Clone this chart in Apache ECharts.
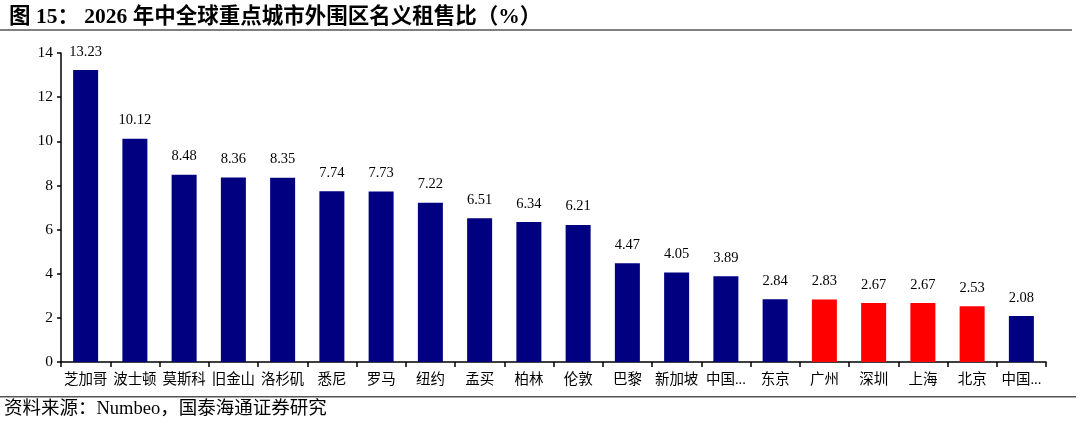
<!DOCTYPE html>
<html>
<head>
<meta charset="utf-8">
<script src="https://cdn.jsdelivr.net/npm/echarts@6/dist/echarts.min.js"></script>
<style>
  html, body { margin: 0; padding: 0; background: #fff; }
  #chart { width: 1080px; height: 424px; }
</style>
</head>
<body>
<div id="chart"></div>
<script>
// ─── Data ──────────────────────────────────────────
const cities = ['芝加哥', '波士顿', '莫斯科', '旧金山', '洛杉矶', '悉尼', '罗马', '纽约', '孟买', '柏林',
  '伦敦', '巴黎', '新加坡', '中国...', '东京', '广州', '深圳', '上海', '北京', '中国...'];
const ratios = [13.23, 10.12, 8.48, 8.36, 8.35, 7.74, 7.73, 7.22, 6.51, 6.34,
  6.21, 4.47, 4.05, 3.89, 2.84, 2.83, 2.67, 2.67, 2.53, 2.08];
const highlighted = ['广州', '深圳', '上海', '北京'];
const yTicks = [0, 2, 4, 6, 8, 10, 12, 14];

const serif = '"Liberation Serif", "Times New Roman", "Noto Sans CJK SC", serif';
const NAVY = '#000080';
const RED = '#ff0000';

const chart = echarts.init(document.getElementById('chart'), null, { renderer: 'canvas' });

const barData = ratios.map((v, i) => ({
  value: v,
  itemStyle: { color: highlighted.includes(cities[i]) ? RED : NAVY }
}));

chart.setOption({
  animation: false,
  backgroundColor: '#fff',
  title: {
    text: '图 15： 2026 年中全球重点城市外围区名义租售比（%）',
    left: 4,
    top: 2,
    textStyle: { fontFamily: serif, fontSize: 21.5, fontWeight: 'bold', color: '#000' }
  },
  graphic: [
    { type: 'rect', shape: { x: 0, y: 29, width: 1072, height: 2 }, style: { fill: '#808080' } },
    { type: 'rect', shape: { x: 0, y: 396, width: 1076, height: 1.5 }, style: { fill: '#555' } },
    {
      type: 'text', left: 4, top: 400,
      style: { text: '资料来源：Numbeo，国泰海通证券研究', font: '18.5px ' + serif, fill: '#000' }
    }
  ],
  grid: { left: 61, right: 34, top: 53, bottom: 62 },
  xAxis: {
    type: 'category',
    data: cities,
    axisLine: { lineStyle: { color: '#000', width: 1.5 } },
    axisTick: { show: true, alignWithLabel: false, length: 5, lineStyle: { color: '#000', width: 1.5 } },
    axisLabel: { color: '#000', fontFamily: serif, fontSize: 14.5, margin: 11, interval: 0 }
  },
  yAxis: {
    type: 'value',
    min: yTicks[0],
    max: yTicks[yTicks.length - 1],
    interval: 2,
    axisLine: { show: true, lineStyle: { color: '#000', width: 1.5 } },
    axisTick: { show: true, length: 4, lineStyle: { color: '#000', width: 1.5 } },
    splitLine: { show: false },
    axisLabel: { color: '#000', fontFamily: serif, fontSize: 15.5, margin: 8 }
  },
  series: [{
    type: 'bar',
    data: barData,
    barWidth: 25,
    label: {
      show: true,
      position: 'top',
      distance: 11,
      color: '#000',
      fontFamily: serif,
      fontSize: 14.5,
      formatter: p => p.value.toFixed(2)
    }
  }]
});
</script>
</body>
</html>
